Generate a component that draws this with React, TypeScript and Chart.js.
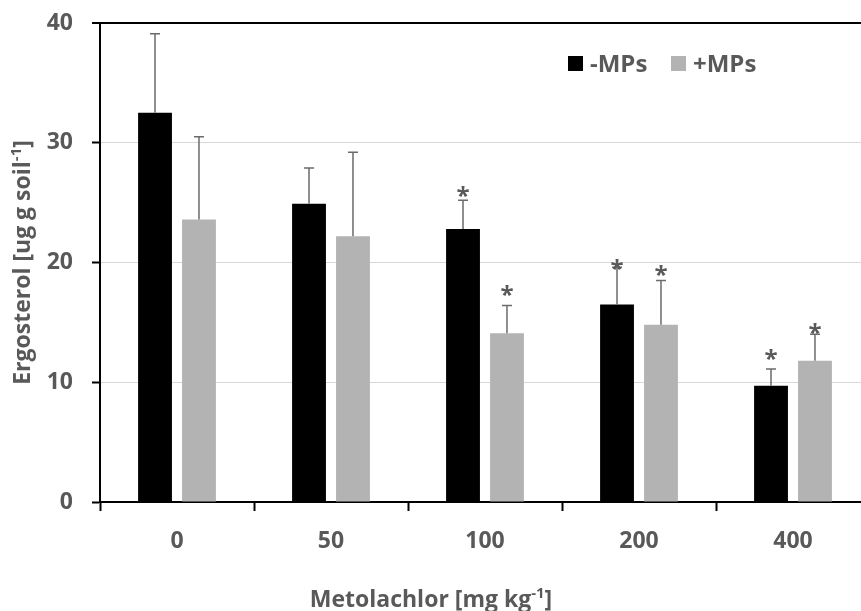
import React, { useEffect, useRef } from "react";
import { Chart, registerables } from "chart.js";

Chart.register(...registerables);

// ---- data ----
const categories = ["0", "50", "100", "200", "400"];
const seriesNames = ["-MPs", "+MPs"];
const minusMPs = [32.5, 24.9, 22.8, 16.5, 9.7];
const minusMPsErr = [6.6, 3.0, 2.4, 3.1, 1.4];
const plusMPs = [23.6, 22.2, 14.1, 14.8, 11.8];
const plusMPsErr = [6.9, 7.0, 2.3, 3.7, 2.2];
// y position (in data units) of significance asterisks, null = none
const minusMPsStar: (number | null)[] = [null, null, 25.9, 19.8, 12.3];
const plusMPsStar: (number | null)[] = [null, null, 17.7, 19.3, 14.5];
const yMin = 0;
const yMax = 40;
const yStep = 10;
const xTitle = [{ t: "Metolachlor [mg kg" }, { t: "-1", sup: true }, { t: "]" }];
const yTitle = [{ t: "Ergosterol [ug g soil" }, { t: "-1", sup: true }, { t: "]" }];

const TEXT = "#595959";
const FONT = "'Open Sans', 'DejaVu Sans', sans-serif";
const colors = ["#000000", "#b3b3b3"];

type Part = { t: string; sup?: boolean };

function drawRich(ctx: CanvasRenderingContext2D, parts: Part[], cx: number, y: number, size: number, supSize: number) {
  const widths = parts.map((p) => {
    ctx.font = `bold ${p.sup ? supSize : size}px ${FONT}`;
    return ctx.measureText(p.t).width;
  });
  const total = widths.reduce((a, b) => a + b, 0);
  let x = cx - total / 2;
  parts.forEach((p, i) => {
    ctx.font = `bold ${p.sup ? supSize : size}px ${FONT}`;
    ctx.fillText(p.t, x, p.sup ? y - size * 0.38 : y);
    x += widths[i];
  });
}

const overlayPlugin = {
  id: "overlay",
  afterDatasetsDraw(chart: any) {
    const ctx: CanvasRenderingContext2D = chart.ctx;
    const y = chart.scales.y;
    const errs = [minusMPsErr, plusMPsErr];
    const vals = [minusMPs, plusMPs];
    const stars = [minusMPsStar, plusMPsStar];
    ctx.save();
    for (let d = 0; d < 2; d++) {
      const meta = chart.getDatasetMeta(d);
      meta.data.forEach((bar: any, i: number) => {
        const x = bar.x;
        const top = y.getPixelForValue(vals[d][i]);
        const et = y.getPixelForValue(vals[d][i] + errs[d][i]);
        ctx.strokeStyle = "#6b6b6b";
        ctx.lineWidth = 1.5;
        ctx.beginPath();
        ctx.moveTo(x, top);
        ctx.lineTo(x, et);
        ctx.moveTo(x - 5, et);
        ctx.lineTo(x + 5, et);
        ctx.stroke();
        const s = stars[d][i];
        if (s !== null && s !== undefined) {
          const sy = y.getPixelForValue(s);
          ctx.font = `bold 24px ${FONT}`;
          ctx.fillStyle = TEXT;
          ctx.textAlign = "center";
          ctx.textBaseline = "alphabetic";
          const m = ctx.measureText("*");
          const off = (m.actualBoundingBoxAscent - m.actualBoundingBoxDescent) / 2;
          ctx.fillText("*", x, sy + off);
        }
      });
    }
    ctx.restore();
  },
  afterDraw(chart: any) {
    const ctx: CanvasRenderingContext2D = chart.ctx;
    ctx.save();
    // legend
    ctx.textAlign = "left";
    ctx.textBaseline = "alphabetic";
    ctx.font = `bold 24px ${FONT}`;
    const legendX = [568, 671];
    seriesNames.forEach((n, i) => {
      ctx.fillStyle = colors[i];
      ctx.fillRect(legendX[i], 56, 15, 15);
      ctx.fillStyle = TEXT;
      ctx.fillText(n, legendX[i] + 22, 72);
    });
    // titles
    ctx.fillStyle = TEXT;
    drawRich(ctx, xTitle, 431, 607, 23, 15);
    const ca = chart.chartArea;
    ctx.translate(30, (ca.top + ca.bottom) / 2);
    ctx.rotate(-Math.PI / 2);
    drawRich(ctx, yTitle, 0, 0, 23, 15);
    ctx.restore();
  },
};

export default function App() {
  const ref = useRef<HTMLCanvasElement>(null);
  useEffect(() => {
    if (!ref.current) return;
    const chart = new Chart(ref.current, {
      type: "bar",
      data: {
        labels: categories,
        datasets: [
          { label: seriesNames[0], data: minusMPs, backgroundColor: colors[0], categoryPercentage: 0.571, barPercentage: 0.77 },
          { label: seriesNames[1], data: plusMPs, backgroundColor: colors[1], categoryPercentage: 0.571, barPercentage: 0.77 },
        ],
      },
      options: {
        animation: false,
        responsive: false,
        devicePixelRatio: 1,
        layout: { padding: { top: 23, right: 10, left: 0, bottom: 0 } },
        plugins: { legend: { display: false }, tooltip: { enabled: false } },
        scales: {
          x: {
            offset: true,
            grid: { offset: true, drawOnChartArea: false, drawTicks: true, tickLength: 9, tickColor: "#000", tickWidth: 2 },
            border: { display: true, color: "#000", width: 2 },
            ticks: { color: TEXT, font: { family: FONT, size: 23, weight: "bold" }, padding: 17 },
            afterFit: (s: any) => { s.height = 109; s.paddingLeft = 0; s.paddingRight = 0; },
          },
          y: {
            min: yMin,
            max: yMax,
            ticks: { stepSize: yStep, color: TEXT, font: { family: FONT, size: 23, weight: "bold" }, padding: 19 },
            grid: {
              color: (c: any) => (c.tick && (c.tick.value === yMax || c.tick.value === yMin) ? "#000" : "#d9d9d9"),
              lineWidth: (c: any) => (c.tick && c.tick.value === yMax ? 2 : 1),
              tickColor: "#000",
              tickWidth: 2,
              tickLength: 8,
            },
            border: { display: true, color: "#000", width: 2 },
            afterFit: (s: any) => { s.width = 100; s.paddingTop = 0; s.paddingBottom = 0; },
          },
        },
      },
      plugins: [overlayPlugin],
    } as any);
    return () => chart.destroy();
  }, []);
  return (
    <div style={{ position: "fixed", left: 0, top: 0, width: 861, height: 611, overflow: "hidden", background: "#fff" }}>
      <canvas ref={ref} width={880} height={611} style={{ display: "block" }} />
    </div>
  );
}
